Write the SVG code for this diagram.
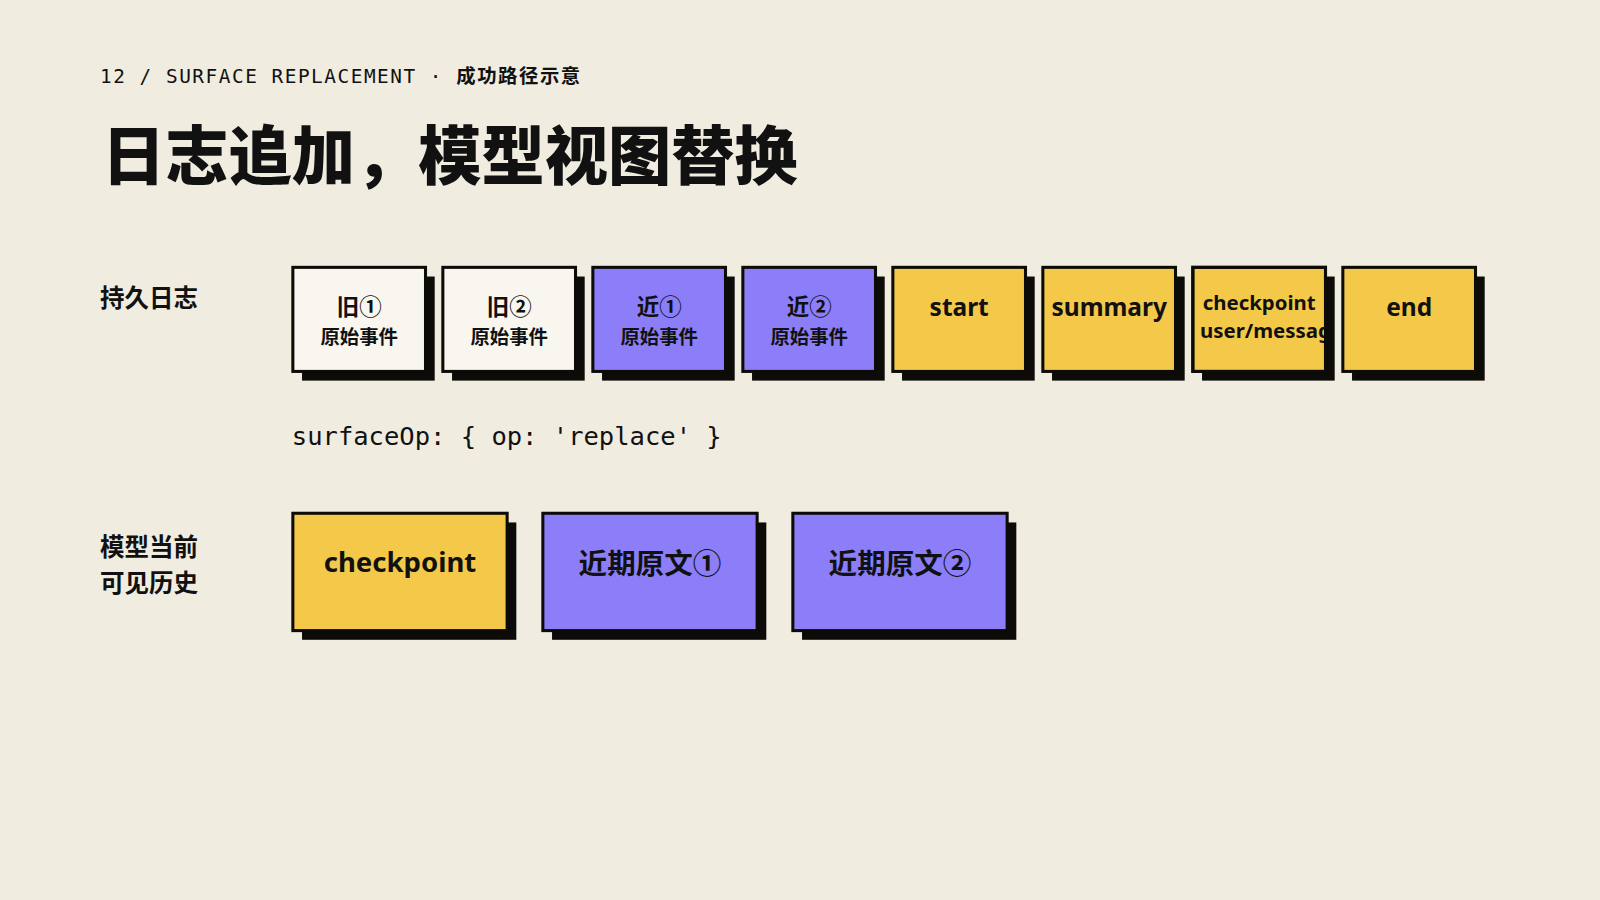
<svg xmlns="http://www.w3.org/2000/svg" width="1600" height="900" viewBox="0 0 1600 900">
<style>
.bg{fill:#f0ece0}
.sh{fill:#0d0b08}
.box{stroke:#0d0b08;stroke-width:3}
.w{fill:#f8f6ef}.p{fill:#8b7ef8}.y{fill:#f4c94a}
.t{font-family:"Noto Sans","Noto Sans CJK SC",sans-serif;font-weight:700;fill:#111;text-anchor:middle}
.m{font-family:"DejaVu Sans Mono","Liberation Mono",monospace;fill:#111}
.lab{font-family:"Noto Sans CJK SC",sans-serif;font-weight:700;fill:#111;font-size:24px}
</style>
<defs>
<clipPath id="c7"><rect x="1169" y="262" width="130" height="102"/></clipPath>
</defs>
<rect class="bg" width="1600" height="900"/>
<g transform="scale(1.0204)">
<text class="m" x="98" y="81" font-size="19" letter-spacing="1.5">12 / SURFACE REPLACEMENT · <tspan font-family="Noto Sans CJK SC" font-weight="700">成功路径示意</tspan></text>
<text x="100" y="175" font-family="Noto Sans CJK SC,sans-serif" font-weight="900" font-size="62" fill="#111">日志追加，模型视图替换</text>
<text class="lab" x="98" y="301">持久日志</text>
<text class="lab" x="98" y="545">模型当前</text>
<text class="lab" x="98" y="580">可见历史</text>
<text class="m" x="286" y="436" font-size="25">surfaceOp: { op: 'replace' }</text>

<g id="n1"><rect class="sh" x="296" y="271" width="130" height="102"/><rect class="box w" x="287" y="262" width="130" height="102"/><text class="t" x="352" y="309" font-size="22">旧①</text><text class="t" x="352" y="337" font-size="19">原始事件</text></g>
<g id="n2"><rect class="sh" x="443" y="271" width="130" height="102"/><rect class="box w" x="434" y="262" width="130" height="102"/><text class="t" x="499" y="309" font-size="22">旧②</text><text class="t" x="499" y="337" font-size="19">原始事件</text></g>
<g id="n3"><rect class="sh" x="590" y="271" width="130" height="102"/><rect class="box p" x="581" y="262" width="130" height="102"/><text class="t" x="646" y="309" font-size="22">近①</text><text class="t" x="646" y="337" font-size="19">原始事件</text></g>
<g id="n4"><rect class="sh" x="737" y="271" width="130" height="102"/><rect class="box p" x="728" y="262" width="130" height="102"/><text class="t" x="793" y="309" font-size="22">近②</text><text class="t" x="793" y="337" font-size="19">原始事件</text></g>
<g id="n5"><rect class="sh" x="884" y="271" width="130" height="102"/><rect class="box y" x="875" y="262" width="130" height="102"/><text class="t" x="940" y="310" font-size="24">start</text></g>
<g id="n6"><rect class="sh" x="1031" y="271" width="130" height="102"/><rect class="box y" x="1022" y="262" width="130" height="102"/><text class="t" x="1087" y="310" font-size="24">summary</text></g>
<g id="n7"><rect class="sh" x="1178" y="271" width="130" height="102"/><rect class="box y" x="1169" y="262" width="130" height="102"/><g clip-path="url(#c7)"><text class="t" x="1234" y="304" font-size="20">checkpoint</text><text x="1176" y="331" font-family="Noto Sans,sans-serif" font-weight="700" font-size="20" fill="#111">user/message</text></g><rect x="1169" y="262" width="130" height="102" fill="none" stroke="#0d0b08" stroke-width="3"/></g>
<g id="n8"><rect class="sh" x="1325" y="271" width="130" height="102"/><rect class="box y" x="1316" y="262" width="130" height="102"/><text class="t" x="1381" y="310" font-size="24">end</text></g>

<g id="m1"><rect class="sh" x="296" y="512" width="210" height="115"/><rect class="box y" x="287" y="503" width="210" height="115"/><text class="t" x="392" y="561" font-size="27">checkpoint</text></g>
<g id="m2"><rect class="sh" x="541" y="512" width="210" height="115"/><rect class="box p" x="532" y="503" width="210" height="115"/><text class="t" x="637" y="563" font-size="28">近期原文①</text></g>
<g id="m3"><rect class="sh" x="786" y="512" width="210" height="115"/><rect class="box p" x="777" y="503" width="210" height="115"/><text class="t" x="882" y="563" font-size="28">近期原文②</text></g>
<g id="connectors"></g>
</g>
</svg>
